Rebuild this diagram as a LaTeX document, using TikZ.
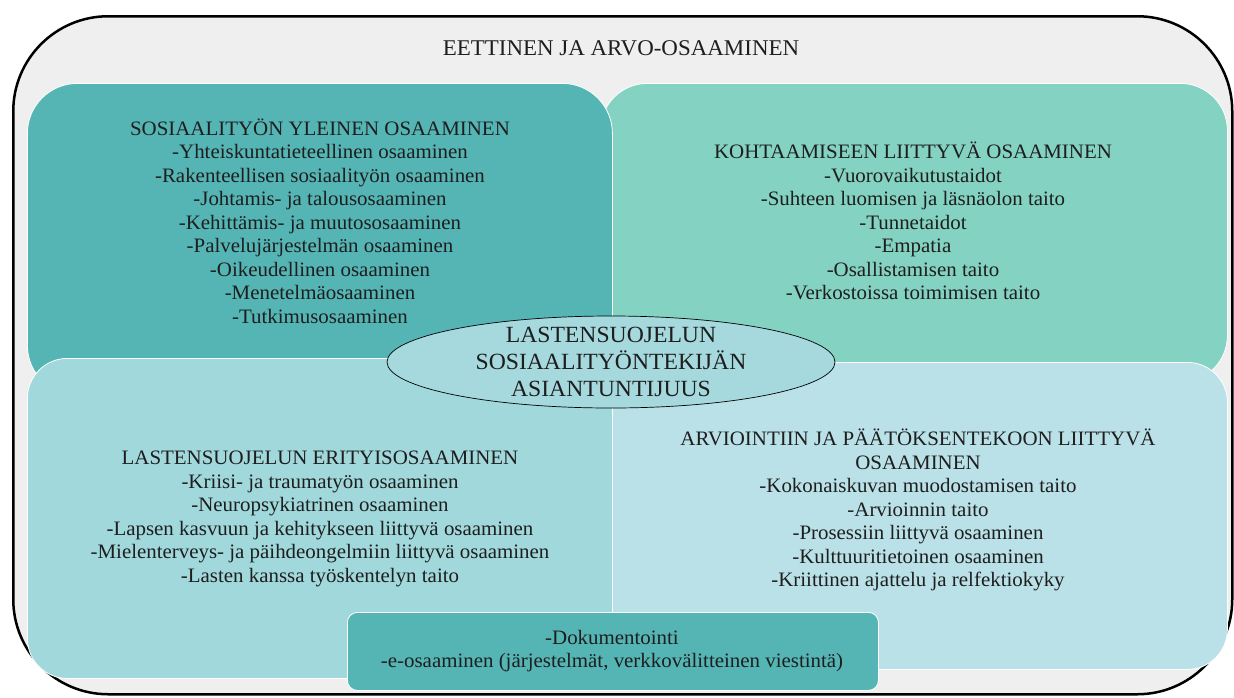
\documentclass[tikz,border=0pt]{standalone}
\usepackage{fontspec}
\usetikzlibrary{shapes.geometric}
\setmainfont{Liberation Serif}[FakeStretch=1.02]
\definecolor{framebg}{HTML}{EFEFEF}
\definecolor{tealdark}{HTML}{55B5B5}
\definecolor{mint}{HTML}{84D3C2}
\definecolor{tealpale}{HTML}{A0D8DC}
\definecolor{skypale}{HTML}{B9E1E7}
\definecolor{ovalfill}{HTML}{A5D9DE}
\definecolor{ink}{HTML}{1E1E1E}
\begin{document}
\begin{tikzpicture}[x=1pt,y=-1pt,
  panel/.style={draw=white, line width=0.8pt, inner sep=0pt, anchor=north west},
  body/.style={align=center, text=ink, inner sep=0pt,
    font=\fontsize{20.5}{23.5}\selectfont},
  oval/.style={ellipse, draw=black, line width=0.7pt, fill=ovalfill, inner sep=0pt,
    minimum width=448pt, minimum height=92pt}]
\useasboundingbox (0,0) rectangle (1234,697);
\fill[white] (0,0) rectangle (1234,697);
% outer frame
\node[draw=black, line width=2.5pt, fill=framebg, rounded corners=95pt,
  inner sep=0pt, minimum width=1219pt, minimum height=678pt, anchor=north west]
  (frame) at (12,15) {};
\node[body, font=\fontsize{22.5}{26}\selectfont] (title) at (621,48)
  {EETTINEN JA ARVO-OSAAMINEN};
% four competence panels
\node[panel, fill=mint, rounded corners=47pt, minimum width=627pt, minimum height=299pt]
  (meet) at (600,83) {};
\node[panel, fill=tealdark, rounded corners=50pt, minimum width=585pt, minimum height=312pt]
  (general) at (27,83) {};
\node[panel, fill=skypale, rounded corners=40pt, minimum width=615pt, minimum height=307pt]
  (assess) at (612,362) {};
\node[panel, fill=tealpale, rounded corners=40pt, minimum width=585pt, minimum height=320pt]
  (special) at (27,358) {};
% shared skills strip
\node[panel, fill=tealdark, rounded corners=10pt, minimum width=531pt, minimum height=78pt]
  (digital) at (347,612) {};
% panel texts
\node[body] (generaltext) at (320,221) {SOSIAALITYÖN YLEINEN OSAAMINEN\\
  -Yhteiskuntatieteellinen osaaminen\\
  -Rakenteellisen sosiaalityön osaaminen\\
  -Johtamis- ja talousosaaminen\\
  -Kehittämis- ja muutososaaminen\\
  -Palvelujärjestelmän osaaminen\\
  -Oikeudellinen osaaminen\\
  -Menetelmäosaaminen\\
  -Tutkimusosaaminen};
\node[body] (meettext) at (913,221) {KOHTAAMISEEN LIITTYVÄ OSAAMINEN\\
  -Vuorovaikutustaidot\\
  -Suhteen luomisen ja läsnäolon taito\\
  -Tunnetaidot\\
  -Empatia\\
  -Osallistamisen taito\\
  -Verkostoissa toimimisen taito};
\node[body] (specialtext) at (320,519) {LASTENSUOJELUN ERITYISOSAAMINEN\\
  -Kriisi- ja traumatyön osaaminen\\
  -Neuropsykiatrinen osaaminen\\
  -Lapsen kasvuun ja kehitykseen liittyvä osaaminen\\
  -Mielenterveys- ja päihdeongelmiin liittyvä osaaminen\\
  -Lasten kanssa työskentelyn taito};
\node[body] (assesstext) at (918,510) {ARVIOINTIIN JA PÄÄTÖKSENTEKOON LIITTYVÄ\\
  OSAAMINEN\\
  -Kokonaiskuvan muodostamisen taito\\
  -Arvioinnin taito\\
  -Prosessiin liittyvä osaaminen\\
  -Kulttuuritietoinen osaaminen\\
  -Kriittinen ajattelu ja relfektiokyky};
\node[body] (digitaltext) at (612,651) {-Dokumentointi\\
  -e-osaaminen (järjestelmät, verkkovälitteinen viestintä)};
% central expertise oval
\node[oval] (core) at (611,362) {};
\node[body, font=\fontsize{23.2}{27}\selectfont] (coretext) at (core.center)
  {LASTENSUOJELUN\\ SOSIAALITYÖNTEKIJÄN\\ ASIANTUNTIJUUS};
\end{tikzpicture}
\end{document}
